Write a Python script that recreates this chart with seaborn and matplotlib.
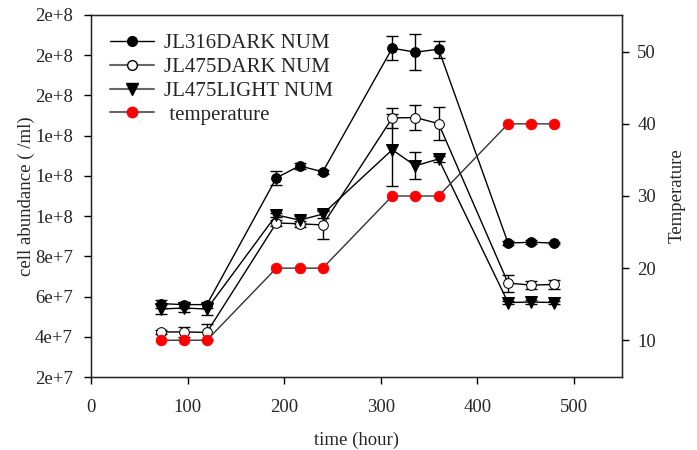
import numpy as np
import pandas as pd
import matplotlib
matplotlib.use("Agg")
import matplotlib.pyplot as plt
from matplotlib.lines import Line2D
from matplotlib.ticker import FuncFormatter, MultipleLocator
import seaborn as sns

# -------------------------------
# data
# -------------------------------
hours = [72, 96, 120, 192, 216, 240, 312, 336, 360, 432, 456, 480]

jl316_dark = [5.65e7, 5.6e7, 5.6e7, 1.19e8, 1.25e8, 1.22e8,
              1.835e8, 1.815e8, 1.83e8, 8.66e7, 8.7e7, 8.66e7]
jl316_dark_err = [2.0e6, 1.5e6, 1.5e6, 3.5e6, 1.5e6, 1.0e6,
                  6.0e6, 9.0e6, 4.2e6, 1.0e6, 1.0e6, 0.5e6]

jl475_dark = [4.24e7, 4.24e7, 4.22e7, 9.66e7, 9.62e7, 9.56e7,
              1.488e8, 1.49e8, 1.46e8, 6.67e7, 6.57e7, 6.6e7]
jl475_dark_err = [1.0e6, 2.5e6, 4.0e6, 1.5e6, 1.5e6, 7.0e6,
                  5.2e6, 6.2e6, 8.4e6, 4.2e6, 2.0e6, 2.0e6]

jl475_light = [5.38e7, 5.43e7, 5.38e7, 1.006e8, 9.8e7, 1.01e8,
               1.33e8, 1.25e8, 1.284e8, 5.7e7, 5.73e7, 5.7e7]
jl475_light_err = [2.5e6, 2.0e6, 3.0e6, 1.0e6, 2.0e6, 2.0e6,
                   1.8e7, 6.7e6, 1.5e6, 0.8e6, 1.0e6, 0.8e6]

temperature = [10, 10, 10, 20, 20, 20, 30, 30, 30, 40, 40, 40]

series_names = ["JL316DARK NUM", "JL475DARK NUM", "JL475LIGHT NUM", " temperature"]

# -------------------------------
# style
# -------------------------------
sns.set_style("ticks")
plt.rcParams["font.family"] = ["Liberation Serif", "DejaVu Serif"]
plt.rcParams["xtick.direction"] = "out"
plt.rcParams["ytick.direction"] = "out"

fig = plt.figure(figsize=(6.97, 4.5), dpi=100)
ax = fig.add_axes([0.1306, 0.1622, 0.7618, 0.8045])

df = pd.DataFrame({"hours": hours, "jl316": jl316_dark,
                   "jl475d": jl475_dark, "jl475l": jl475_light,
                   "temp": temperature})

ms = 7
sns.lineplot(data=df, x="hours", y="jl316", ax=ax, color="black", lw=1,
             marker="o", markersize=ms, markerfacecolor="black",
             markeredgecolor="black", zorder=3)
sns.lineplot(data=df, x="hours", y="jl475d", ax=ax, color="black", lw=1,
             marker="o", markersize=ms, markerfacecolor="white",
             markeredgecolor="black", zorder=3)
sns.lineplot(data=df, x="hours", y="jl475l", ax=ax, color="black", lw=1,
             marker="v", markersize=ms + 1, markerfacecolor="black",
             markeredgecolor="black", zorder=3)

for vals, errs in [(jl316_dark, jl316_dark_err), (jl475_dark, jl475_dark_err),
                   (jl475_light, jl475_light_err)]:
    ax.errorbar(hours, vals, yerr=errs, fmt="none", ecolor="black",
                elinewidth=1, capsize=4.5, capthick=1, zorder=2)

ax.set_xlim(0, 550)
ax.set_ylim(2e7, 2e8)
ax.xaxis.set_major_locator(MultipleLocator(100))
ax.yaxis.set_major_locator(MultipleLocator(2e7))


def sci_fmt(v, pos):
    if v <= 0:
        return "0"
    e = int(np.floor(np.log10(v)))
    m = int(round(v / 10 ** e))
    return f"{m}e+{e}"


ax.yaxis.set_major_formatter(FuncFormatter(sci_fmt))
ax.tick_params(labelsize=13.5, length=5, width=1, color="black")
ax.tick_params(axis="x", pad=11)
ax.tick_params(axis="y", pad=8)
ax.set_xlabel("time (hour)", fontsize=13.5, labelpad=11)
ax.set_ylabel("cell abundance ( /ml)", fontsize=13.5, labelpad=0)
for s in ax.spines.values():
    s.set_linewidth(1)
    s.set_color("black")

# temperature on the right axis
ax2 = ax.twinx()
sns.lineplot(data=df, x="hours", y="temp", ax=ax2, color="#333333", lw=1,
             marker="o", markersize=ms + 0.5, markerfacecolor="red",
             markeredgecolor="red", zorder=3)
ax2.set_ylim(4.9, 55.1)
ax2.set_yticks([10, 20, 30, 40, 50])
ax2.tick_params(labelsize=13.5, length=5, width=1, color="black", pad=6)
ax2.set_ylabel("Temperature", fontsize=13.5, labelpad=9)
ax2.set_xlabel("")

# legend
handles = [
    Line2D([], [], color="black", lw=1, marker="o", markersize=ms,
           markerfacecolor="black", markeredgecolor="black"),
    Line2D([], [], color="#666666", lw=1.5, marker="o", markersize=ms,
           markerfacecolor="white", markeredgecolor="black"),
    Line2D([], [], color="#666666", lw=1.5, marker="v", markersize=ms + 1,
           markerfacecolor="black", markeredgecolor="black"),
    Line2D([], [], color="#666666", lw=1.5, marker="o", markersize=ms + 0.5,
           markerfacecolor="red", markeredgecolor="red"),
]
ax.legend(handles, series_names, loc="upper left", frameon=False,
          fontsize=15, handlelength=2.1, handletextpad=0.5,
          labelspacing=0.2, bbox_to_anchor=(0.0, 1.0), borderaxespad=0.5)

fig.savefig("out.png", dpi=100)
